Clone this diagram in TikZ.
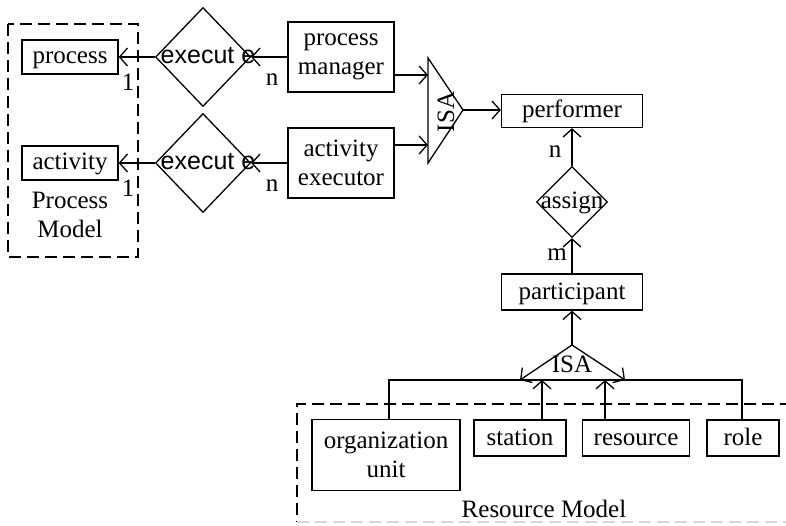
\documentclass[tikz,border=0pt]{standalone}
\usepackage{fontspec}
\setmainfont{Liberation Serif}
\newfontfamily\relfont{Liberation Sans}
\definecolor{Faded}{RGB}{215,215,215}
\usetikzlibrary{arrows.meta,shapes.geometric}

\begin{document}
\begin{tikzpicture}[x=1pt,y=-1pt,
  every node/.style={font=\fontsize{25}{29}\selectfont},
  ent/.style={draw,line width=1.3pt,inner sep=0pt,align=center,text height=18pt,text depth=4pt},
  ent2/.style={draw,line width=1.3pt,inner sep=0pt,align=center,execute at begin node=\rule{0pt}{16pt}},
  rel/.style={diamond,draw,line width=1.3pt,inner sep=0pt,text height=18pt,text depth=4pt},
  con/.style={line width=1.3pt},
  arr/.style={con,-{Straight Barb[length=8pt,width=18pt]}},
  grp/.style={line width=1.3pt,dash pattern=on 12pt off 6pt}]
  \useasboundingbox (0,0) rectangle (786,526);
  \clip (0,0) rectangle (786,526);
  % process model side
  \node[ent,minimum width=96pt,minimum height=34pt] (process) at (70,57) {process};
  \node[ent,minimum width=96pt,minimum height=34pt] (activity) at (70,163) {activity};
  \node[align=center] (pmodel) at (70,215) {Process\\Model};
  \draw[grp] (8,24) rectangle (138,257);
  \node[rel,minimum width=95pt,minimum height=99pt] (exec1) at (203,57) {\relfont\makebox[0pt]{\kern10pt execut e}};
  \node[rel,minimum width=95pt,minimum height=99pt] (exec2) at (203,163) {\relfont\makebox[0pt]{\kern10pt execut e}};
  \node[ent2,minimum width=106pt,minimum height=70pt] (pman) at (341,57) {process\\manager};
  \node[ent2,minimum width=106pt,minimum height=70pt] (aexec) at (341,163) {activity\\executor};
  \draw[arr] (exec1.west) -- (process.east);
  \draw[arr] (pman.west) -- (exec1.east);
  \draw[arr] (exec2.west) -- (activity.east);
  \draw[arr] (aexec.west) -- (exec2.east);
  \node (one1) at (128,82) {1};
  \node (one2) at (128,188) {1};
  \node (n1) at (272,80) {n};
  \node (n2) at (272,186) {n};
  % upper ISA
  \coordinate (isaT) at (428,58);
  \coordinate (isaB) at (428,163);
  \coordinate (isaP) at (463,110);
  \coordinate (isaIn1) at (428,75);
  \coordinate (isaIn2) at (428,145);
  \draw[con] (isaT) -- (isaP) -- (isaB) -- cycle;
  \node[rotate=90] (isa1) at (446,112) {ISA};
  \draw[arr] (pman.east |- isaIn1) -- (isaIn1);
  \draw[arr] (aexec.east |- isaIn2) -- (isaIn2);
  % performer / participant
  \node[ent,minimum width=141pt,minimum height=33pt] (performer) at (572,111) {performer};
  \node[rel,minimum width=71pt,minimum height=71pt] (assign) at (572,202) {\makebox[0pt]{assign}};
  \node[ent,minimum width=141pt,minimum height=36pt] (participant) at (572,292) {participant};
  \draw[arr] (isaP) -- (isaP -| performer.west);
  \draw[arr] (assign.north) -- (performer.south);
  \draw[arr] (participant.north) -- (assign.south);
  \node (n3) at (555,152) {n};
  \node (m1) at (557,255) {m};
  % lower ISA
  \coordinate (isa2P) at (572,345);
  \coordinate (isa2L) at (520,380);
  \coordinate (isa2R) at (625,380);
  \node (isa2) at (572,364) {ISA};
  \draw[arr] (isa2P) -- (participant.south);
  \draw[arr] (isa2P) -- (isa2L);
  \draw[arr] (isa2P) -- (isa2R);
  % resource model side
  \node[ent2,minimum width=148pt,minimum height=71pt] (orgunit) at (386,455) {organization\\unit};
  \node[ent,minimum width=92pt,minimum height=36pt] (station) at (520,438) {station};
  \node[ent,minimum width=107pt,minimum height=36pt] (resource) at (636,438) {resource};
  \node[ent,minimum width=72pt,minimum height=36pt] (role) at (743,438) {role};
  \coordinate (barL) at (389,380);
  \coordinate (barR) at (742,380);
  \coordinate (barS) at (542,380);
  \coordinate (barE) at (605,380);
  \draw[con] (barL |- orgunit.north) -- (barL) -- (barR) -- (barR |- role.north);
  \draw[arr] (barS |- station.north) -- (barS);
  \draw[arr] (barE |- resource.north) -- (barE);
  \node (rmodel) at (544,509) {Resource Model};
  \draw[grp] (810,404) -- (297,404) -- (297,522);
  \draw[grp,Faded] (297,522) -- (810,522);
\end{tikzpicture}
\end{document}
